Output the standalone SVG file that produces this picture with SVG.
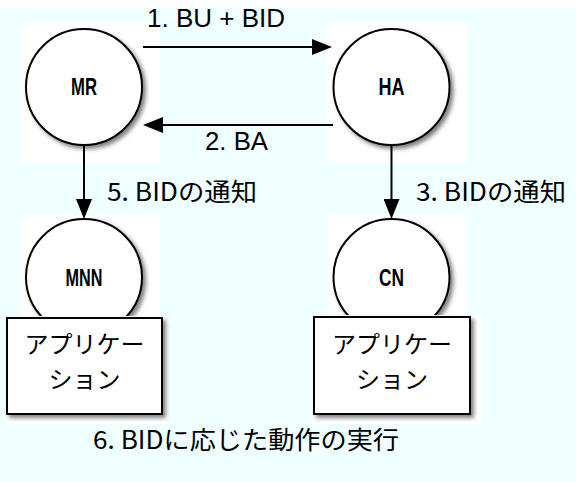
<svg xmlns="http://www.w3.org/2000/svg" width="576" height="482" viewBox="0 0 576 482">
<style>
.t{font-family:"Noto Sans CJK JP","Liberation Sans",sans-serif;font-size:25px;fill:#000}
.ta{font-family:"Noto Sans CJK JP","Liberation Sans",sans-serif;font-size:24px;fill:#000;text-anchor:middle}
.tl{font-family:"Liberation Sans","Noto Sans CJK JP",sans-serif;font-size:25px;fill:#000}
.lbl{font-family:"Liberation Sans","Noto Sans CJK JP",sans-serif;font-size:24px;font-weight:bold;fill:#000;text-anchor:middle}
.bg{fill:#fff}
.node{fill:#fff;stroke:#000;stroke-width:2;filter:url(#sh)}
.conn{stroke:#000;stroke-width:2;fill:none;marker-end:url(#ah)}
</style>
<defs>
<filter id="sh" x="-20%" y="-20%" width="150%" height="150%">
<feDropShadow dx="3" dy="3" stdDeviation="2" flood-color="#000" flood-opacity="0.5"/>
</filter>
<marker id="ah" markerUnits="userSpaceOnUse" markerWidth="20" markerHeight="16" refX="12" refY="8" orient="auto">
<path d="M0,0 L20,8 L0,16 Z" fill="#000"/>
</marker>
</defs>
<rect x="0" y="0" width="576" height="482" fill="#fff"/>
<rect x="0" y="7" width="576" height="475" fill="#f0ffff"/>

<g id="MR">
<rect class="bg" x="21" y="23" width="139" height="140"/>
<circle class="node" cx="84" cy="87" r="58"/>
<text class="lbl" x="84" y="95" textLength="26" lengthAdjust="spacingAndGlyphs">MR</text>
</g>
<g id="HA">
<rect class="bg" x="327" y="23" width="141" height="140"/>
<circle class="node" cx="391.5" cy="87" r="58"/>
<text class="lbl" x="391.5" y="95" textLength="26" lengthAdjust="spacingAndGlyphs">HA</text>
</g>
<g id="MNN">
<rect class="bg" x="21" y="215" width="139" height="103"/>
<circle class="node" cx="84" cy="277" r="58"/>
<text class="lbl" x="84" y="286" textLength="37" lengthAdjust="spacingAndGlyphs">MNN</text>
</g>
<g id="CN">
<rect class="bg" x="328" y="215" width="139" height="103"/>
<circle class="node" cx="391.5" cy="277" r="58"/>
<text class="lbl" x="391.5" y="286" textLength="25" lengthAdjust="spacingAndGlyphs">CN</text>
</g>
<g id="app-left">
<rect class="bg" x="5" y="316" width="163" height="108"/>
<rect class="node" x="7" y="318" width="155" height="96"/>
<text class="ta"><tspan x="84.5" y="353">アプリケー</tspan><tspan x="84.5" y="388">ション</tspan></text>
</g>
<g id="app-right">
<rect class="bg" x="312" y="315" width="170" height="109"/>
<rect class="node" x="314" y="317" width="156" height="97"/>
<text class="ta"><tspan x="392" y="353">アプリケー</tspan><tspan x="392" y="388">ション</tspan></text>
</g>

<g id="connectors">
<line class="conn" x1="143" y1="47" x2="324" y2="47"/>
<line class="conn" x1="333" y1="125" x2="151" y2="125"/>
<line class="conn" x1="84" y1="145" x2="84" y2="211"/>
<line class="conn" x1="391.5" y1="145" x2="391.5" y2="211"/>
</g>

<g id="labels">
<text class="tl" x="147" y="27" textLength="138" lengthAdjust="spacingAndGlyphs">1. BU + BID</text>
<text class="tl" x="205" y="150" textLength="63" lengthAdjust="spacingAndGlyphs">2. BA</text>
<text class="t" x="107" y="201" textLength="150" lengthAdjust="spacingAndGlyphs">5. BIDの通知</text>
<text class="t" x="416" y="201" textLength="150" lengthAdjust="spacingAndGlyphs">3. BIDの通知</text>
<text class="t" x="93" y="449" textLength="306" lengthAdjust="spacingAndGlyphs">6. BIDに応じた動作の実行</text>
</g>
</svg>
